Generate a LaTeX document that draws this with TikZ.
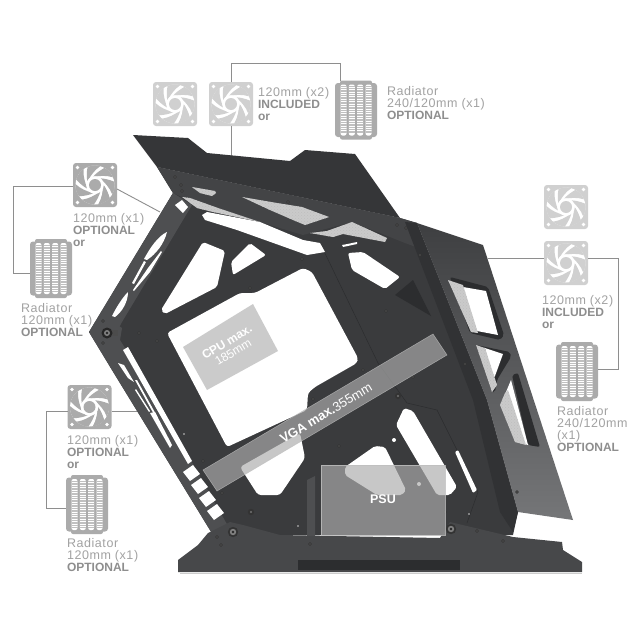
\documentclass[tikz,border=0pt]{standalone}
\usepackage{fontspec}
\setmainfont{Liberation Sans}
\newfontfamily\regfont[LetterSpace=4.5]{Liberation Sans}
\usetikzlibrary{patterns,calc}
\definecolor{wingc}{HTML}{353638}
\definecolor{bandc}{HTML}{434446}
\definecolor{bodyc}{HTML}{3A3B3D}
\definecolor{armc}{HTML}{4E4F51}
\definecolor{footc}{HTML}{47484A}
\definecolor{darkc}{HTML}{2C2D2F}
\definecolor{stripc}{HTML}{313234}
\definecolor{panelA}{HTML}{3E3F41}
\definecolor{panelB}{HTML}{757678}
\definecolor{lightfan}{HTML}{D0D0D0}
\definecolor{midfan}{HTML}{ABABAB}
\definecolor{linec}{HTML}{8E8E8E}
\definecolor{txtc}{HTML}{A2A2A2}
\definecolor{txtb}{HTML}{8E8E8E}
\definecolor{marblec}{HTML}{CACACA}
\definecolor{overlayc}{HTML}{ACACAC}
\newcommand{\bd}[1]{{\fontspec{Liberation Sans Bold}\fontsize{12}{12}\selectfont\color{txtb}#1}}
\tikzset{
  conn/.style={draw=linec,line width=0.9pt},
  fanbox/.style={rounded corners=3pt,minimum size=44pt,inner sep=0,outer sep=0,fill=#1},
  radbox/.style={minimum width=42pt,minimum height=59pt,inner sep=0,outer sep=0},
  lab/.style={anchor=north west,inner sep=0,outer sep=0,align=left,text=txtc,font=\regfont\fontsize{12.5}{12}\selectfont},
  hole/.style={fill=white,draw=none},
  marble/.style={preaction={fill=marblec},pattern=crosshatch dots,pattern color=black!25},
  fanart/.pic={
    \fill[white] (0,0) circle (19.5);
    \foreach \a in {0,51.4,...,360}{
      \fill[pic actions] (\a:8.5) .. controls (\a+15:11) and (\a+30:15) .. (\a+42:19.6)
        arc[start angle=\a+42,end angle=\a+80,radius=19.6]
        .. controls (\a+62:15) and (\a+38:10) .. (\a+16:8.5) -- cycle;
    }
    \fill[white] (0,0) circle (8.8);
    \fill[pic actions] (0,0) circle (6);
    \foreach \x/\y in {-17.5/-17.5,17.5/-17.5,-17.5/17.5,17.5/17.5}
      \fill[white] (\x,\y) circle (1.9);
  }
}
\newcommand{\radart}[3]{%
  \begin{scope}[shift={(#1,#2)}]
    \fill[#3,rounded corners=3pt] (-21,-27) rectangle (21,27);
    \fill[#3,rounded corners=2pt] (-16,-29.5) rectangle (16,29.5);
    \foreach \cx in {-12.5,-4.2,4.2,12.5}{
      \fill[white,rounded corners=2pt] (\cx-3,-25.5) rectangle (\cx+3,25.5);
      \foreach \sy in {-23.4,-21.7,...,23.8}
        \draw[#3!75!white,line width=0.5pt] (\cx-3,\sy) -- (\cx+3,\sy);
    }
  \end{scope}}
\newcommand{\boltat}[3][1.9]{\fill[black!80] (#2,#3) circle (#1); \fill[white!45!black] (#2,#3) circle (#1*0.35);}
\begin{document}
\begin{tikzpicture}[x=1pt,y=-1pt]
\useasboundingbox (0,0) rectangle (640,640);
\fill[white] (0,0) rectangle (640,640);

% connector free ends
\coordinate (t1) at (231,63); \coordinate (t2) at (340,63);
\coordinate (wingtouch) at (231,156);
\coordinate (l1) at (13,186); \coordinate (l2) at (13,273);
\coordinate (armtouch) at (160,212);
\coordinate (m1) at (46,411); \coordinate (m2) at (46,508);
\coordinate (armlow) at (137,411);
\coordinate (r1) at (618,258); \coordinate (r2) at (618,369);
\coordinate (paneltouch) at (488,258);

% fans and radiators
\node[fanbox=lightfan] (fanA) at (175,104) {};
\node[fanbox=lightfan] (fanB) at (231,104) {};
\node[fanbox=midfan]   (fanC) at (95,185) {};
\node[fanbox=midfan]   (fanD) at (89.5,407) {};
\node[fanbox=lightfan] (fanE) at (566,207) {};
\node[fanbox=lightfan] (fanF) at (566,263) {};
\pic[fill=lightfan] at (fanA) {fanart};
\pic[fill=lightfan] at (fanB) {fanart};
\pic[fill=midfan] at (fanC) {fanart};
\pic[fill=midfan] at (fanD) {fanart};
\pic[fill=lightfan] at (fanE) {fanart};
\pic[fill=lightfan] at (fanF) {fanart};

\node[radbox] (radA) at (356,110) {};
\node[radbox] (radB) at (51,268.5) {};
\node[radbox] (radC) at (87,504.5) {};
\node[radbox] (radD) at (577,371.5) {};
\radart{356}{110}{midfan}
\radart{51}{268.5}{midfan}
\radart{87}{504.5}{midfan}
\radart{577}{371.5}{midfan}

% connectors
\draw[conn] (fanB.north) -- (t1) -- (t2) -- (t2 |- radA.north);
\draw[conn] (fanB.south) -- (wingtouch);
\draw[conn] (fanC.west |- l1) -- (l1) -- (l2) -- (radB.west |- l2);
\draw[conn] ($(fanC.east)+(0,4)$) -- (armtouch);
\draw[conn] (fanD.west |- m1) -- (m1) -- (m2) -- (radC.west |- m2);
\draw[conn] (fanD.east |- m1) -- (armlow);
\draw[conn] (fanF.west |- r1) -- (paneltouch);
\draw[conn] (fanF.east |- r1) -- (r1) -- (r2) -- (radD.east |- r2);

% labels
\node[lab] (tA) at (258,87) {120mm (x2)\\\bd{INCLUDED}\\\bd{or}};
\node[lab] (tB) at (387,86) {Radiator\\240/120mm (x1)\\\bd{OPTIONAL}};
\node[lab] (tC) at (73,213) {120mm (x1)\\\bd{OPTIONAL}\\\bd{or}};
\node[lab] (tD) at (21,303) {Radiator\\120mm (x1)\\\bd{OPTIONAL}};
\node[lab] (tE) at (67,435) {120mm (x1)\\\bd{OPTIONAL}\\\bd{or}};
\node[lab] (tF) at (67,538) {Radiator\\120mm (x1)\\\bd{OPTIONAL}};
\node[lab] (tG) at (542,295) {120mm (x2)\\\bd{INCLUDED}\\\bd{or}};
\node[lab] (tH) at (557,406) {Radiator\\240/120mm\\(x1)\\\bd{OPTIONAL}};

% ----- chassis -----
\fill[bodyc] (89,332) -- (173,193) -- (157,167) -- (400,218) -- (417,223) -- (487,400) -- (518,512)
  -- (513,535) -- (213,535) -- (112,370) -- cycle;
\fill[wingc] (133,135) -- (188,138) -- (207,153) -- (290,161) -- (305,150) -- (355,154) -- (400,218) -- (157,167) -- cycle;
\fill[bandc] (157,167) -- (400,218) -- (417,223) -- (424,250) -- (405,243) -- (390,237) -- (352,222) -- (303,235) -- (260,222) -- (182,197) -- (173,193) -- cycle;
\fill[armc] (89,332) -- (173,193) -- (192,205) -- (122,322) -- (106,352) -- cycle;
\fill[armc] (89,332) -- (112,370) -- (213,535) -- (228,526) -- (150,388) -- (120,340) -- cycle;
\fill[stripc] (405,222) -- (417,223) -- (487,400) -- (518,512) -- (513,532) -- (500,512) -- (473,400) -- cycle;
\shade[top color=panelA,bottom color=panelB] (417,223) -- (483,245) -- (573,520) -- (518,512) -- (487,400) -- cycle;
\draw[darkc,line width=0.5pt] (320,243) -- (378,363) -- (407,403) -- (437,410) -- (478,492) -- (467,523);

% holes in the upper part
\fill[hole] (175,205) -- (182,200) -- (188,207) -- (183,213) -- cycle;
\fill[hole] (202,215) -- (207,212) -- (260,222) -- (303,240) -- (320,243) -- (325,252) -- (307,255) -- (237,230) -- (205,220) -- cycle;
\fill[hole,rounded corners=2pt] (203,242) -- (225,251) -- (217,287) -- (165,314) -- (161,310) -- cycle;
\fill[hole,rounded corners=2pt] (250,243) -- (266,255) -- (233,275) -- (231,262) -- cycle;
\fill[hole,rounded corners=3pt] (167,333) -- (240,293) -- (255,293) -- (303,268) -- (312,272) -- (358,358) -- (357,363)
   -- (315,387) -- (308,393) -- (307,410) -- (227,447) -- cycle;
\fill[hole,rounded corners=2pt] (348,253) -- (363,252) -- (400,277) -- (385,289) -- (352,270) -- cycle;
\fill[hole] (342,245) .. controls (348,244) and (352,243) .. (357,242) -- (357,244) .. controls (352,245) and (348,246) .. (343,247) -- cycle;
\fill[darkc] (413,280) -- (431,316) -- (395,295) -- cycle;

% arm openings
\fill[hole] (167,232) .. controls (158,236) and (150,248) .. (144,259) -- (147,260) .. controls (156,254) and (164,244) .. (167,232) -- cycle;
\fill[hole] (161,251) -- (162,252) -- (150,272) -- (134,291) -- (133,290) -- (148,268) -- cycle;
\fill[hole] (144,261) -- (146,262) -- (134,284) -- (132,283) -- cycle;
\fill[hole] (128,292) .. controls (122,298) and (116,308) .. (112,316) -- (115,317) .. controls (122,312) and (128,302) .. (128,292) -- cycle;
\fill[hole] (123,350) -- (128,347) -- (192,461) -- (188,464) -- cycle;
\fill[hole] (118,363) -- (124,365) -- (134,382) -- (128,378) -- cycle;
\fill[hole] (135,380) -- (137,380) -- (158,418) -- (156,418) -- cycle;
\fill[hole] (135,390) -- (136,389) -- (150,411) -- (149,412) -- cycle;
\fill[hole] (150,413) -- (155,412) -- (172,445) -- (170,448) -- cycle;
\foreach \k in {0,1,2,3}
  \fill[hole] ($(183,472)+(\k*8,\k*13)$) -- ($(193,465)+(\k*8,\k*13)$) -- ($(200,474)+(\k*8,\k*13)$) -- ($(190,481)+(\k*8,\k*13)$) -- cycle;

% lower holes
\fill[hole,rounded corners=3pt] (240,467) -- (300,433) -- (305,458) -- (280,495) -- (258,495) -- cycle;
\fill[hole,rounded corners=2pt] (375,446) -- (385,447) -- (406,490) -- (402,495) -- (377,495) -- (345,475) -- (345,467) -- cycle;
\fill[hole,rounded corners=2pt] (404,408) -- (413,411) -- (457,487) -- (450,495) -- (437,495) -- (396,425) -- cycle;
\fill[hole,rounded corners=1pt] (455,452) -- (458,450) -- (477,490) -- (473,493) -- cycle;
\fill[hole] (394,440) circle (2);
\fill[hole] (419,484) circle (2);

% LED strips
\fill[marble] (192,187) -- (215,191) -- (216,193) -- (212,196) -- (200,193) -- cycle;
\fill[marble] (242,197) -- (277,203) -- (302,207) -- (329,217) -- (305,225) -- (293,220) -- (270,210) -- cycle;
\fill[marble] (352,222) -- (387,238) -- (385,242) -- (343,234) -- (333,237) -- (310,233) -- (327,231) -- cycle;
\fill[marble] (182,197) -- (190,198) -- (218,208) -- (260,222) -- (213,212) -- (197,208) -- cycle;

% right panel windows
\fill[darkc,rounded corners=2pt] (450,277) -- (488,287) -- (504,335) -- (500,340) -- (470,333) -- cycle;
\fill[hole] (463,287) -- (486,291) -- (498,335) -- (477,331) -- cycle;
\fill[marble] (448,280) -- (463,285) -- (478,333) -- (471,332) -- cycle;
\fill[darkc,rounded corners=2pt] (476,345) -- (510,352) -- (511,357) -- (497,380) -- (495,392) -- (492,392) -- cycle;
\fill[hole] (485,348) -- (503,354) -- (495,376) -- (493,378) -- cycle;
\fill[marble] (476,345) -- (485,348) -- (497,385) -- (492,392) -- cycle;
\fill[darkc,rounded corners=2pt] (512,375) -- (518,373) -- (540,447) -- (528,445) -- cycle;
\fill[hole] (511,380) -- (528,445) -- (522,443) -- (506,392) -- cycle;
\fill[marble] (505,393) -- (508,390) -- (526,445) -- (515,442) -- (500,405) -- cycle;

% foot
\fill[footc] (198,545) -- (208,533) -- (230,522) -- (243,525) -- (280,535) -- (440,538) -- (450,522) -- (513,537)
  -- (562,542) -- (563,550) -- (582,562) -- (582,572) -- (178,572) -- (178,560) -- cycle;
\fill[darkc] (298,560) rectangle (460,570);
\fill[black!20] (180,572.5) rectangle (582,573.5);
\fill[armc] (307,480) -- (315,476) -- (315,536) -- (307,536) -- cycle;

% pivot plate
\fill[armc] (90,332) -- (103,315) -- (122,328) -- (120,340) -- (107,350) -- cycle;
\fill[black!70] (112,330) rectangle (118,336);
\fill[black!85] (107,333) circle (5.5);
\fill[black!50] (107,333) circle (3);
\fill[black!85] (107,333) circle (1.3);

% bolts
\foreach \x/\y in {175/177,181/185,182/191,288/202,397/225,406/228,420/255,302/259,250/288,386/311,
  363/370,313/399,413/377,139/333,157/341,103/321,103/343,203/461,222/493,217/537,221/545,
  339/446,310/544,477/531,503/541,517/492,465/364,445/512}
  {\boltat{\x}{\y}}
\boltat[3.2]{251}{512}
\boltat[3]{398}{396}
\foreach \x/\y in {233/532,451/529}{
  \fill[black!80] (\x,\y) circle (5.2);
  \fill[black!50] (\x,\y) circle (3.2);
  \fill[black!85] (\x,\y) circle (1.3);
}
\fill[white!80!black] (184,434) circle (0.8);
\fill[white!80!black] (298,526) circle (0.8);
\fill[white!80!black] (469,514) circle (0.8);

% overlays
\fill[overlayc,opacity=.62] (183,347) -- (253,304) -- (278,351) -- (207,390) -- cycle;
\fill[overlayc,opacity=.67] (203,470) -- (433,334) -- (447,355) -- (217,491) -- cycle;
\draw[white!75!black,line width=0.5pt,opacity=.7] (203,470) -- (433,334) -- (447,355) -- (217,491) -- cycle;
\fill[overlayc,opacity=.67] (321,465) rectangle (445,535);
\draw[white!75!black,line width=0.5pt,opacity=.8] (321,465) rectangle (445,535);

\node[text=white,align=center,rotate=31,inner sep=0,font=\fontsize{12}{12}\selectfont] (cpu) at (230,347) {\textbf{CPU max.}\\185mm};
\node[text=white,rotate=31,inner sep=0,font=\fontsize{13}{13}\selectfont] (vga) at (326,413) {\textbf{VGA max.}355mm};
\node[text=white,inner sep=0,font=\fontsize{12.5}{13}\selectfont\bfseries] (psu) at (383,499) {PSU};
\end{tikzpicture}
\end{document}
